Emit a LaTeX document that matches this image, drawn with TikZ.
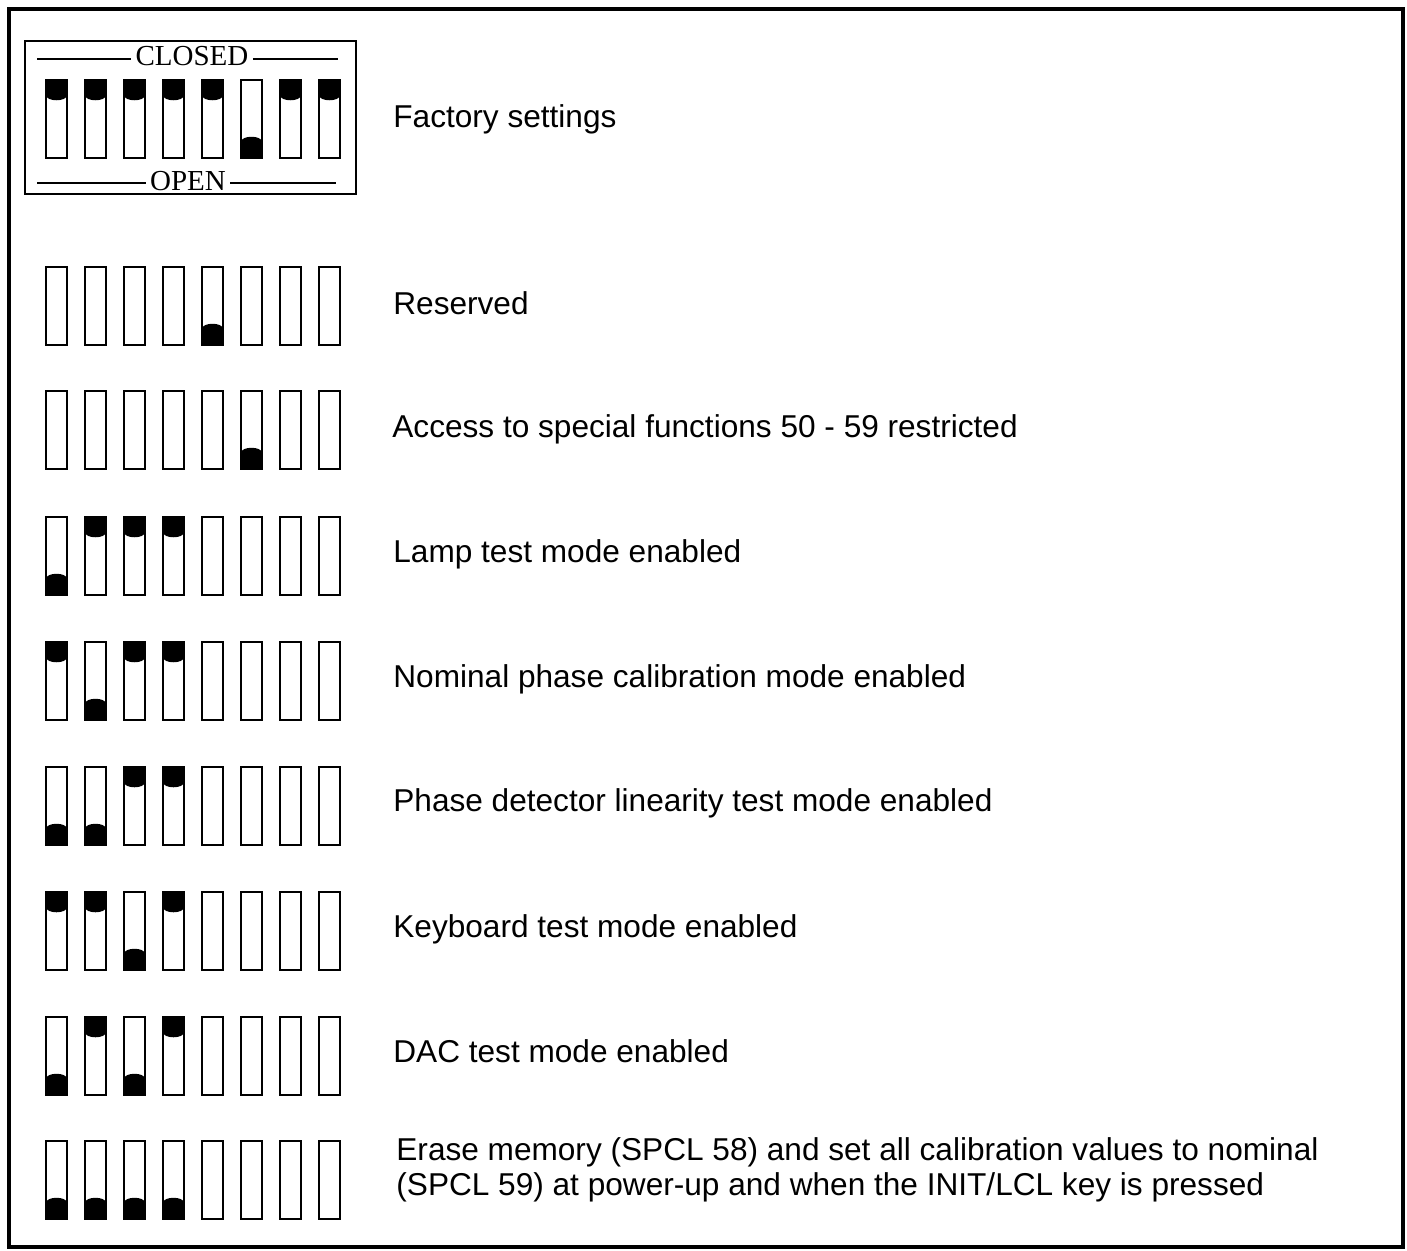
\documentclass[tikz,border=0pt]{standalone}
\usepackage{fontspec}
\setmainfont{Liberation Sans}
\newfontfamily\capserif{Liberation Serif}
\newcommand\swrow[2]{%
  \foreach \s [count=\i from 0] in {#2} {%
    \pgfmathsetmacro\xx{46+39*\i}%
    \ifnum\s=1
      \fill[knob] (\xx,#1) -- (\xx+21,#1) -- (\xx+21,#1+15) .. controls (\xx+21,#1+22) and (\xx,#1+22) .. (\xx,#1+15) -- cycle;
    \fi
    \ifnum\s=2
      \fill[knob] (\xx,#1+78) -- (\xx+21,#1+78) -- (\xx+21,#1+62) .. controls (\xx+21,#1+55) and (\xx,#1+55) .. (\xx,#1+62) -- cycle;
    \fi
    \draw[swbox] (\xx,#1) rectangle (\xx+21,#1+78);
  }}
\begin{document}
\begin{tikzpicture}[x=0.5pt,y=-0.5pt,
  swbox/.style={draw, line width=1.3pt},
  knob/.style={fill=black},
  lbl/.style={anchor=base west, inner sep=0pt, font=\fontsize{15.8}{18}\selectfont},
  caplbl/.style={anchor=base, inner sep=2pt, font=\capserif\fontsize{14.5}{16}\selectfont},
  rule/.style={line width=1pt}]
\useasboundingbox (0,0) rectangle (1407,1250);
\draw[line width=1.6pt] (9,9) rectangle (1403,1247);
% factory settings box
\draw[line width=1pt] (25,41) rectangle (356,194);
\node[caplbl] (closed) at (192,65) {CLOSED};
\node[caplbl] (open) at (188,190) {OPEN};
\coordinate (cl1) at (37,59);
\coordinate (cl2) at (338,59);
\coordinate (op1) at (37,183);
\coordinate (op2) at (336,183);
\draw[rule] (cl1) -- (cl1 -| closed.west);
\draw[rule] (cl2 -| closed.east) -- (cl2);
\draw[rule] (op1) -- (op1 -| open.west);
\draw[rule] (op2 -| open.east) -- (op2);
\swrow{80}{1,1,1,1,1,2,1,1}
\node[lbl] (t0) at (393,127) {Factory settings};
% rows
\swrow{267}{0,0,0,0,2,0,0,0}
\node[lbl] (t1) at (393,314) {Reserved};
\swrow{391}{0,0,0,0,0,2,0,0}
\node[lbl] (t2) at (392,437) {Access to special functions 50 - 59 restricted};
\swrow{517}{2,1,1,1,0,0,0,0}
\node[lbl] (t3) at (393,562) {Lamp test mode enabled};
\swrow{642}{1,2,1,1,0,0,0,0}
\node[lbl] (t4) at (393,687) {Nominal phase calibration mode enabled};
\swrow{767}{2,2,1,1,0,0,0,0}
\node[lbl] (t5) at (393,811) {Phase detector linearity test mode enabled};
\swrow{892}{1,1,2,1,0,0,0,0}
\node[lbl] (t6) at (393,937) {Keyboard test mode enabled};
\swrow{1017}{2,1,2,1,0,0,0,0}
\node[lbl] (t7) at (393,1062) {DAC test mode enabled};
\swrow{1141}{2,2,2,2,0,0,0,0}
\node[lbl] (t8) at (396,1160) {Erase memory (SPCL 58) and set all calibration values to nominal};
\node[lbl] (t9) at (396,1195) {(SPCL 59) at power-up and when the INIT/LCL key is pressed};
\end{tikzpicture}
\end{document}
